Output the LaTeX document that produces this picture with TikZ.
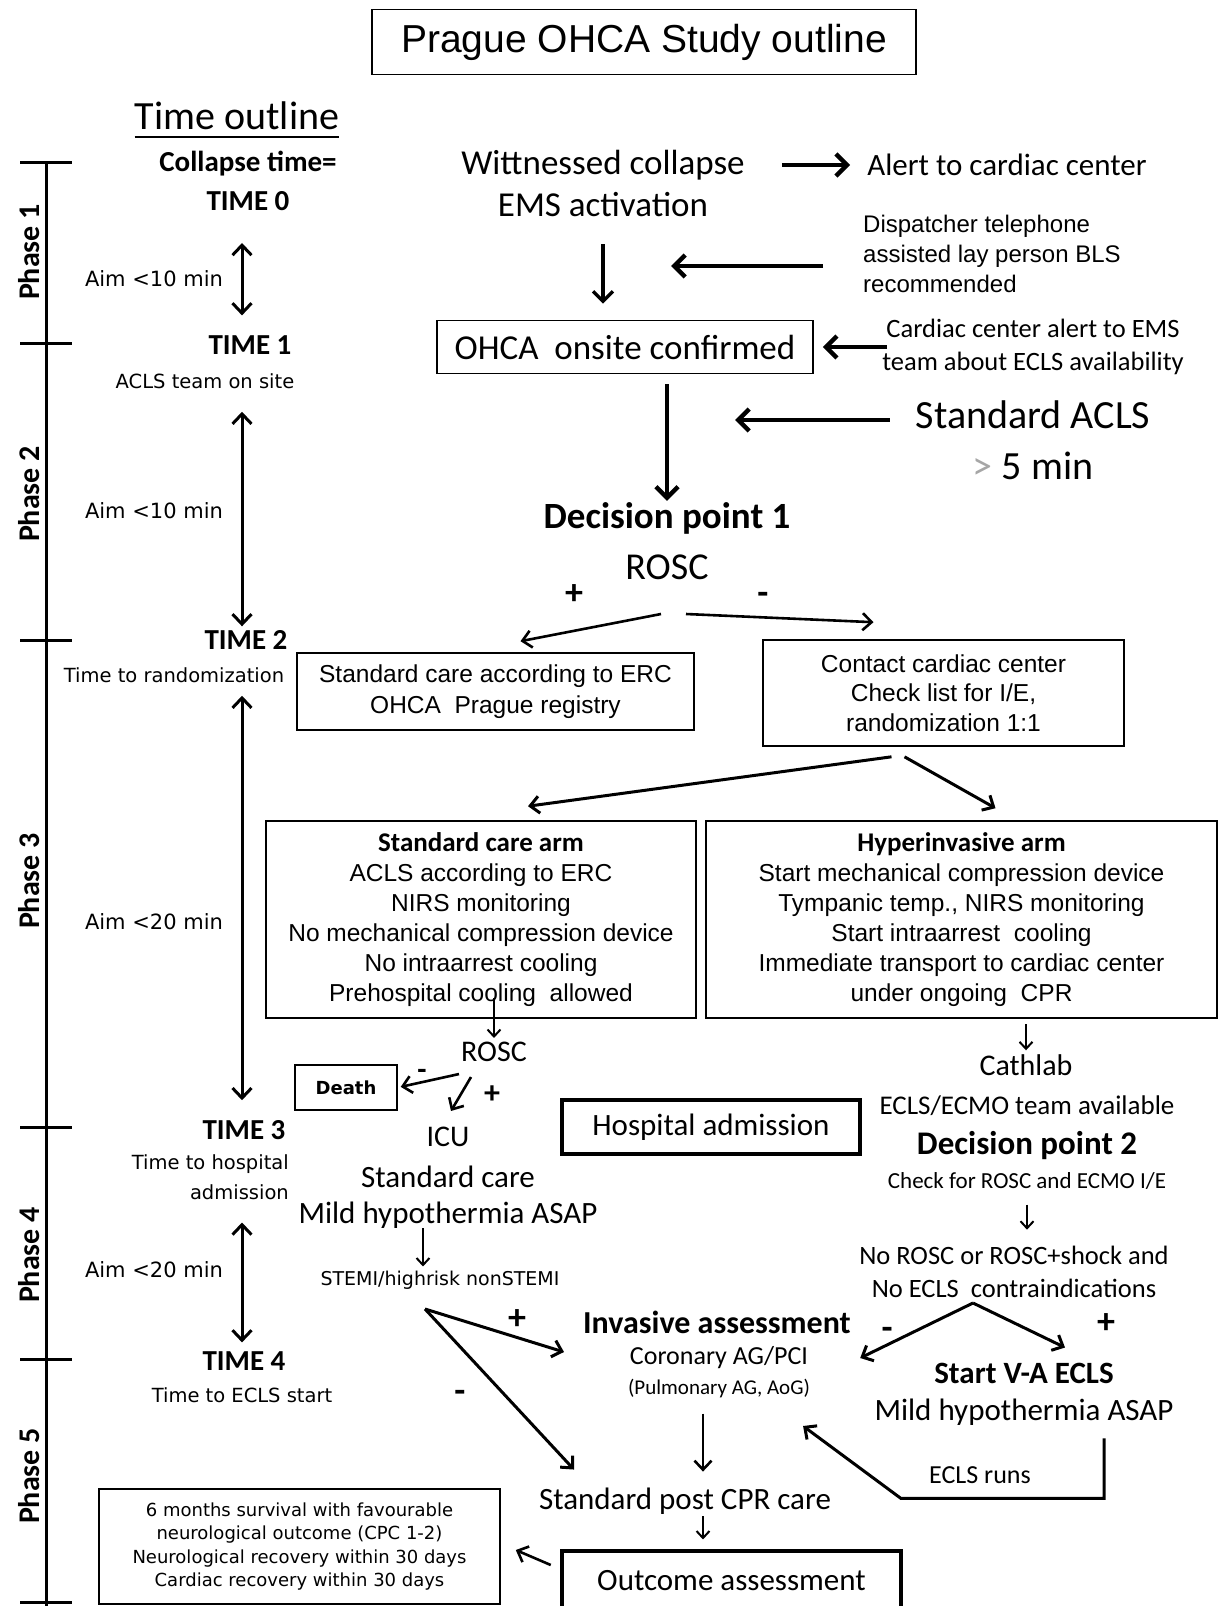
\documentclass[tikz,border=0pt]{standalone}
\usepackage{fontspec}
\setmainfont{Carlito}
\newfontfamily\arialfont{Liberation Sans}
\newfontfamily\verdfont{DejaVu Sans}
\usetikzlibrary{arrows.meta}
\newcommand{\fsz}[2]{\fontsize{#1pt}{#2pt}\selectfont}

\begin{document}
\begin{tikzpicture}[x=1pt,y=-1pt,
  every node/.style={inner sep=0pt},
  box/.style={draw,line width=1.6pt},
  heavybox/.style={draw,line width=4.5pt},
  tline/.style={line width=3pt},
  arr/.style={line width=2.6pt,-{Straight Barb[length=9pt,width=17pt]}},
  smallarr/.style={line width=2pt,-{Straight Barb[length=7pt,width=13pt]}},
  bigarr/.style={line width=4.5pt,-{Straight Barb[length=11pt,width=22pt]}},
  dblarr/.style={line width=3pt,{Straight Barb[length=10pt,width=19pt]}-{Straight Barb[length=10pt,width=19pt]}},
  timelab/.style={font=\bfseries\fsz{29}{39}},
  timenote/.style={font=\verdfont\fsz{19.5}{30}},
  phaselab/.style={rotate=90,font=\bfseries\fsz{30}{34}},
  sign/.style={font=\bfseries\fsz{36}{40}}]
\useasboundingbox (0,0) rectangle (1219,1606);

% title
\node[box,minimum width=544,minimum height=65,font=\arialfont\fsz{39}{47}] (title) at (644,42) {Prague OHCA Study outline};

% time outline
\node[font=\fsz{40}{48}] (tout) at (237,116) {Time outline};
\draw[line width=2.2pt] ([yshift=-7pt]tout.south west) -- ([yshift=-7pt]tout.south east);
\draw[tline] (46,162) -- (46,1606);
\foreach \ty in {162,343,640,1127,1359,1602}
  \draw[tline] (20,\ty) -- (72,\ty);
\foreach \ph/\py in {1/252,2/494,3/881,4/1255,5/1476}
  \node[phaselab] (phase\ph) at (29,\py) {Phase \ph};

\node[timelab,align=center] (time0) at (248,181) {Collapse time=\\TIME 0};
\node[timelab] (time1) at (250,345) {TIME 1};
\node[timenote] (team) at (205,381) {ACLS team on site};
\node[timelab] (time2) at (246,640) {TIME 2};
\node[timenote] (rand) at (174,675) {Time to randomization};
\node[timelab] (time3) at (244,1130) {TIME 3};
\node[timenote,align=right,anchor=north east] (hosp) at (289,1154) {Time to hospital\\admission};
\node[timelab] (time4) at (244,1361) {TIME 4};
\node[timenote] (eclsstart) at (242,1395) {Time to ECLS start};
\foreach \an/\ay/\am in {a/279/10,b/511/10,c/922/20,d/1270/20}
  \node[font=\verdfont\fsz{21}{25}] (aim\an) at (154,\ay) {Aim <\am{} min};

\coordinate (tarr) at (242,0);
\draw[dblarr,shorten <=32pt,shorten >=20pt] (time0.south -| tarr) -- (time1.north -| tarr);
\draw[dblarr,shorten <=23pt,shorten >=4pt] (team.south -| tarr) -- (time2.north -| tarr);
\draw[dblarr,shorten <=13pt,shorten >=20pt] (rand.south -| tarr) -- (time3.north -| tarr);
\draw[dblarr,shorten <=23pt,shorten >=9pt] (hosp.south -| tarr) -- (time4.north -| tarr);

% prehospital phase
\node[font=\fsz{35}{42}] (wit) at (603,165) {Wittnessed collapse};
\node[font=\fsz{35}{42}] (ems) at (603,205) {EMS activation};
\node[font=\fsz{31}{37}] (alert) at (1007,165) {Alert to cardiac center};
\draw[bigarr,shorten <=37pt,shorten >=17pt] (wit.east) -- (alert.west);
\node[font=\arialfont\fsz{24}{30},align=left,anchor=west] (disp) at (863,254) {Dispatcher telephone\\assisted lay person BLS\\recommended};
\draw[bigarr] ([xshift=-40pt,yshift=-12pt]disp.west) -- ++(-152,0);
\node[box,minimum width=376,minimum height=53,font=\fsz{35}{42}] (ohca) at (625,347) {OHCA\ \ onsite confirmed};
\draw[line width=3.4pt,-{Straight Barb[length=10pt,width=20pt]},shorten <=27pt,shorten >=16pt] (ems.south) -- (ems.south |- ohca.north);
\node[font=\fsz{26.5}{33},align=center] (cca) at (1033,347) {Cardiac center alert to EMS\\team about ECLS availability};
\draw[bigarr,shorten >=9pt] ([xshift=5pt]cca.west) -- (ohca.east);
\node[font=\bfseries\fsz{37}{44}] (dp1) at (667,518) {Decision point 1};
\draw[bigarr,shorten <=10pt,shorten >=1pt] (ohca.south -| dp1) -- (dp1.north);
\node[font=\fsz{40}{48}] (acls) at (1033,415) {Standard ACLS};
\node[font=\fsz{40}{48}] (acls5) at (1033,466) {{\color{gray!70}>} 5 min};
\draw[bigarr,shorten <=26pt,shorten >=68pt] ([yshift=-5pt]acls.west) -- ([yshift=-5pt]acls.west -| dp1);
\node[font=\fsz{38}{46}] (rosc1) at (667,567) {ROSC};
\node[sign] (plus1) at (574,595) {+};
\node[sign] (minus1) at (763,598) {-};

% randomization
\node[box,minimum width=397,minimum height=77,align=center,font=\arialfont\fsz{24.5}{31}] (std) at (495.5,691.5) {Standard care according to ERC\\OHCA\ \ Prague registry};
\node[box,minimum width=361,minimum height=106,align=center,font=\arialfont\fsz{24.5}{29.5}] (contact) at (943.5,693) {Contact cardiac center\\Check list for I/E,\\randomization 1:1};
\coordinate (split1) at (673,614);
\draw[arr] ([xshift=-12pt]split1) -- ([xshift=25pt,yshift=11pt]std.north);
\draw[arr] ([xshift=13pt]split1) -- ([xshift=-70pt,yshift=17pt]contact.north);

\node[box,minimum width=430,minimum height=197,align=center,font=\arialfont\fsz{24.5}{30}] (stdarm) at (481,919.5) {{\rmfamily\bfseries\fsz{27}{30}Standard care arm}\\ACLS according to ERC\\NIRS monitoring\\No mechanical compression device\\No intraarrest cooling\\Prehospital cooling\ \ allowed};
\node[box,minimum width=511,minimum height=197,align=center,font=\arialfont\fsz{24.5}{30}] (hyp) at (961.5,919.5) {{\rmfamily\bfseries\fsz{27}{30}Hyperinvasive arm}\\Start mechanical compression device\\Tympanic temp., NIRS monitoring\\Start intraarrest\ \ cooling\\Immediate transport to cardiac center\\under ongoing\ \ CPR};
\draw[arr,line width=3pt] ([xshift=-52pt,yshift=-10pt]contact.south) -- ([xshift=47pt,yshift=14pt]stdarm.north);
\draw[arr,line width=3pt] ([xshift=-39pt,yshift=-10pt]contact.south) -- ([xshift=34pt,yshift=12pt]hyp.north);

% standard arm outcome
\node[font=\fsz{30}{36}] (rosc2) at (494,1052) {ROSC};
\draw[smallarr,shorten >=4pt] (rosc2.north) ++(0,-44) -- (rosc2.north);
\node[box,minimum width=102,minimum height=45,font=\verdfont\bfseries\fsz{18}{22}] (death) at (346,1087.5) {Death};
\node[sign,font=\bfseries\fsz{30}{34}] (minus2) at (422,1074) {-};
\node[sign,font=\bfseries\fsz{32}{36}] (plus2) at (492,1095) {+};
\node[font=\fsz{30}{36}] (icu) at (448,1137) {ICU};
\draw[arr,shorten >=3pt] ([xshift=-35pt,yshift=-12pt]rosc2.south) -- (death.east);
\draw[arr] ([xshift=-23pt,yshift=-15pt]rosc2.south) -- ([xshift=3pt,yshift=16pt]icu.north);
\node[font=\fsz{31}{37}] (stdc) at (448,1177) {Standard care};
\node[font=\fsz{31}{37}] (mild1) at (448,1215) {Mild hypothermia ASAP};
\node[font=\verdfont\fsz{19}{23}] (stemi) at (440,1280) {STEMI/highrisk nonSTEMI};
\draw[smallarr] ([xshift=-25pt]mild1.south) -- ++(0,38);
\node[heavybox,minimum width=298,minimum height=54,font=\fsz{31}{37}] (hadm) at (711,1127) {Hospital admission};

% hyperinvasive arm outcome
\node[font=\fsz{30}{36}] (cath) at (1026,1065) {Cathlab};
\draw[smallarr,shorten >=4pt] (cath.north) ++(0,-30) -- (cath.north);
\node[font=\fsz{27}{32}] (team2) at (1027,1106) {ECLS/ECMO team available};
\node[font=\bfseries\fsz{33}{40}] (dp2) at (1027,1146) {Decision point 2};
\node[font=\fsz{23}{28}] (check) at (1027,1181) {Check for ROSC and ECMO I/E};
\draw[smallarr] (check.south) ++(0,15) -- ++(0,25);
\node[font=\fsz{26.5}{33},align=center] (norosc) at (1014,1272) {No ROSC or ROSC+shock and\\No ECLS\ \ contraindications};
\node[font=\bfseries\fsz{31}{37}] (startva) at (1024,1373) {Start V-A ECLS};
\node[font=\fsz{31}{37}] (mild2) at (1024,1412) {Mild hypothermia ASAP};
\node[font=\bfseries\fsz{32}{38}] (inv) at (717,1322) {Invasive assessment};
\node[font=\fsz{26}{31}] (coronary) at (719,1358) {Coronary AG/PCI};
\node[font=\fsz{21}{25}] (pulm) at (719,1388) {(Pulmonary AG, AoG)};
\coordinate (apex2) at (973,1303);
\draw[arr,line width=3pt] (apex2) -- ([xshift=52pt]coronary.east);
\draw[arr,line width=3pt] (apex2) -- ([xshift=41pt,yshift=15pt]startva.north);
\node[sign] (minus3) at (887,1333) {-};
\node[sign] (plus3) at (1106,1324) {+};

\coordinate (apex1) at (425,1309);
\node[font=\fsz{31}{37}] (post) at (685,1501) {Standard post CPR care};
\draw[arr,line width=3pt] (apex1) -- ([xshift=-19pt,yshift=-30pt]inv.west);
\draw[arr,line width=3pt] (apex1) -- ([xshift=-111pt,yshift=18pt]post.north);
\node[sign] (plus4) at (517,1320) {+};
\node[sign] (minus4) at (460,1396) {-};
\draw[arr] ([xshift=-16pt]pulm.south) ++(0,16) -- ++(0,58);
\node[font=\fsz{26}{31}] (eclsruns) at (980,1475) {ECLS runs};
\draw[arr,line width=3pt] ([xshift=80pt,yshift=-13pt]mild2.south) -- ++(0,60) -- ++(-203,0) -- ([xshift=-7pt,yshift=-38pt]pulm.east);

% outcome
\node[heavybox,minimum width=339,minimum height=60,font=\fsz{31}{37}] (outc) at (731.5,1581) {Outcome assessment};
\draw[smallarr] ([xshift=18pt]post.south) ++(0,2) -- ++(0,23);
\node[box,minimum width=401,minimum height=115,align=center,font=\verdfont\fsz{18}{23.5}] (surv) at (299.5,1546.5) {6 months survival with favourable\\neurological outcome (CPC 1-2)\\Neurological recovery within 30 days\\Cardiac recovery within 30 days};
\draw[arr] ([xshift=-9pt,yshift=16pt]outc.west) -- ([xshift=15pt,yshift=-3.5pt]surv.east);
\end{tikzpicture}
\end{document}
